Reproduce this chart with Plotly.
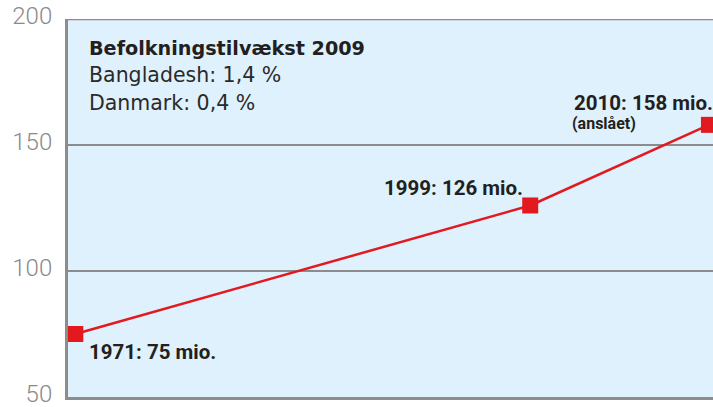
import plotly.graph_objects as go

years = [1971, 1999, 2010]
population = [75, 126, 158]
point_labels = ["1971: 75 mio.", "1999: 126 mio.", "2010: 158 mio."]
note_2010 = "(anslået)"
box_title = "Befolkningstilvækst 2009"
box_lines = ["Bangladesh: 1,4 %", "Danmark: 0,4 %"]
y_ticks = [50, 100, 150, 200]

RED = "#e2191f"
GRID = "#8c8c8c"
TXT = "#231f20"
LBL = dict(size=20.5, color=TXT, family="Roboto")

fig = go.Figure()
fig.add_trace(go.Scatter(
    x=years, y=population, mode="lines+markers",
    line=dict(color=RED, width=2.5),
    marker=dict(symbol="square", size=16, color=RED),
    hoverinfo="skip", showlegend=False,
))

for v in y_ticks[1:]:
    fig.add_shape(type="line", xref="paper", x0=0, x1=1, yref="y", y0=v, y1=v,
                  line=dict(color=GRID, width=2.5 if v == 200 else 2), layer="below")

ann = []
ann.append(dict(x=years[0], y=population[0], text="<b>%s</b>" % point_labels[0],
                xanchor="left", yanchor="middle", xshift=12, yshift=-18, font=LBL))
ann.append(dict(x=years[1], y=population[1], text="<b>%s</b>" % point_labels[1],
                xanchor="right", yanchor="middle", xshift=-5, yshift=17, font=LBL))
ann.append(dict(x=years[2], y=population[2], text="<b>%s</b>" % point_labels[2],
                xanchor="right", yanchor="middle", xshift=6, yshift=22, font=LBL))
ann.append(dict(x=years[2], y=population[2], text="<b>%s</b>" % note_2010,
                xanchor="left", yanchor="middle", xshift=-139, yshift=1,
                font=dict(size=16, color=TXT, family="Roboto")))
ann.append(dict(xref="paper", yref="paper", x=0.029, y=0.922, text="<b>%s</b>" % box_title,
                xanchor="left", yanchor="middle", showarrow=False,
                font=dict(size=19.2, color=TXT, family="DejaVu Sans")))
for i, t in enumerate(box_lines):
    ann.append(dict(xref="paper", yref="paper", x=0.029, y=0.851 - i * 0.072, text=t,
                    xanchor="left", yanchor="middle", showarrow=False,
                    font=dict(size=20.5, color="#2a2a2a", family="DejaVu Sans")))
for a in ann:
    a.setdefault("showarrow", False)

fig.update_layout(
    width=713, height=407,
    margin=dict(l=68, r=0, t=19, b=10),
    paper_bgcolor="white", plot_bgcolor="#dff1fc",
    annotations=ann,
    xaxis=dict(range=[1970.55, 2010.25], showgrid=False, showticklabels=False,
               ticks="", zeroline=False, showline=True, linecolor=GRID, linewidth=3),
    yaxis=dict(range=[50, 200], tickvals=y_ticks, showgrid=False, zeroline=False,
               showline=True, linecolor=GRID, linewidth=3, ticks="",
               tickfont=dict(size=24, color="#8a8a8a", family="Roboto", weight=300),
               ticklabelstandoff=8, ticklabeloverflow="allow", ticklabelshift=-3),
)
fig.write_html("out.html", config={"displayModeBar": False},
               post_script="document.body.style.margin='0';document.body.style.overflow='hidden';")
